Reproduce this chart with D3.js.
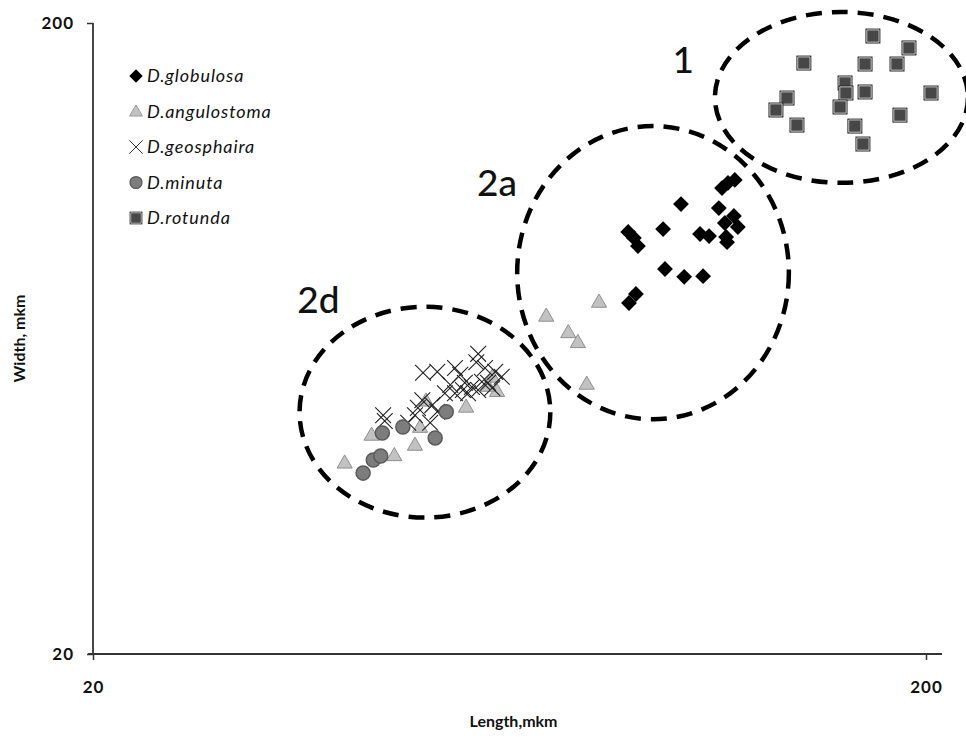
<!DOCTYPE html>
<html><head><meta charset="utf-8">
<script src="https://cdn.jsdelivr.net/npm/d3@7"></script>
<style>
html,body{margin:0;padding:0;background:#fff;}
svg{display:block;}
text{font-family:Lato,"Open Sans",sans-serif;}
</style></head>
<body>
<svg id="chart" width="966" height="740"></svg>
<script>
// ---- data (length, width in mkm) ----
const seriesNames = ["D.globulosa","D.angulostoma","D.geosphaira","D.minuta","D.rotunda"];
const globulosa = [[113.8,109.5],[115.7,111.6],[117.9,112.8],[101.6,103.3],[112.8,101.8],[117.6,98.9],[114.7,96.4],[118.9,95.0],[115.1,91.6],[115.4,89.9],[107.1,92.6],[109.8,91.9],[96.7,94.3],[87.8,93.3],[89.2,91.3],[90.2,88.6],[97.2,81.5],[102.5,79.2],[108.0,79.4],[89.7,74.4],[88.0,72.0]];
const angulostoma = [[81.0,72.3],[70.0,68.7],[74.4,64.7],[76.4,62.4],[78.3,53.6],[56.1,49.3],[50.2,50.4],[49.4,45.8],[48.7,42.9],[46.0,41.3],[43.2,44.5],[40.1,40.2],[60.3,55.0],[61.1,52.2],[59.6,53.2]];
const geosphaira = [[58.0,59.8],[57.7,58.0],[49.8,55.8],[51.8,56.0],[54.4,56.8],[55.2,55.4],[59.1,56.8],[60.8,56.0],[61.9,55.0],[55.9,53.8],[57.0,53.0],[58.6,54.0],[59.6,53.8],[60.3,52.8],[53.7,53.4],[54.4,51.8],[52.9,51.8],[49.7,50.5],[51.1,49.6],[51.8,48.4],[49.1,49.1],[48.7,47.8],[44.6,47.8],[44.8,46.8],[47.8,46.5],[50.8,46.5],[56.4,51.8],[58.0,52.4],[55.6,52.4]];
const minuta = [[42.2,38.7],[43.4,40.6],[44.3,41.2],[44.5,44.8],[47.1,45.8],[51.5,44.0],[53.1,48.4]];
const rotunda = [[172.7,190.7],[190.8,182.6],[142.7,172.8],[169.0,172.2],[184.6,172.2],[159.9,160.7],[160.3,154.9],[169.0,155.5],[202.8,154.9],[136.2,152.1],[132.1,145.6],[157.7,147.2],[186.1,142.9],[140.0,137.8],[164.3,137.3],[168.0,128.6]];
const tickValues = [20, 200];
const xTitle = "Length,mkm";
const yTitle = "Width, mkm";
// group ellipses: [label, xMin, xMax, yMin, yMax, labelX, labelY]
const groups = [
  ["1",  111.6, 224.6, 111.6, 208.2, 102.2, 166.6],
  ["2a", 64.6, 136.9, 47.1, 137.3, 61.1, 106.4],
  ["2d", 35.4, 70.8, 32.9, 71.0, 37.3, 69.4]
];

const svg = d3.select("#chart");
const x = d3.scaleLog().domain([20,200]).range([93,926]);
const y = d3.scaleLog().domain([20,200]).range([654,23]);
const axisColor = "#333";

// axes
const xAxisG = svg.append("g").attr("transform",`translate(0,${y(20)})`)
  .call(d3.axisBottom(x).tickValues(tickValues).tickFormat(d3.format("d")).tickSize(6).tickPadding(21));
xAxisG.select(".domain").remove();
xAxisG.append("line").attr("x1",x(20)-5).attr("x2",x.range()[1]+16).attr("y1",0).attr("y2",0)
  .attr("stroke",axisColor).attr("stroke-width",1.8);
const yAxisG = svg.append("g").attr("transform",`translate(${x(20)},0)`)
  .call(d3.axisLeft(y).tickValues(tickValues).tickFormat(d3.format("d")).tickSize(6).tickPadding(13));
yAxisG.select(".domain").remove();
yAxisG.append("line").attr("x1",0).attr("x2",0).attr("y1",y(200)).attr("y2",y(20))
  .attr("stroke",axisColor).attr("stroke-width",1.8);
[xAxisG,yAxisG].forEach(g=>{
  g.selectAll(".tick line").attr("stroke",axisColor).attr("stroke-width",1.5);
  g.selectAll(".tick text").attr("fill","#111").style("font-family","Lato, sans-serif")
   .style("font-size","17px").style("font-weight","bold").style("letter-spacing","1px");
});

svg.append("text").attr("x",(x(20)+x(200))/2+4).attr("y",727).attr("text-anchor","middle")
  .style("font-size","16px").style("font-weight","bold").attr("fill","#111").text(xTitle);
svg.append("text").attr("transform",`translate(25,${(y(20)+y(200))/2})rotate(-90)`).attr("text-anchor","middle")
  .style("font-size","16px").style("font-weight","bold").attr("fill","#111").text(yTitle);

// marker drawers
function drawMarker(g, i){
  if(i===0){
    g.append("path").attr("d",d3.symbol(d3.symbolSquare,125)()).attr("transform","rotate(45)").attr("fill","#000");
  } else if(i===1){
    g.append("path").attr("d",d3.symbol(d3.symbolTriangle,100)()).attr("transform","translate(0,1)")
      .attr("fill","#c2c2c2").attr("stroke","#8f8f8f").attr("stroke-width",1);
  } else if(i===2){
    g.append("path").attr("d",d3.symbol(d3.symbolX,165)()).attr("fill","none").attr("stroke","#222").attr("stroke-width",1.1);
  } else if(i===3){
    g.append("path").attr("d",d3.symbol(d3.symbolCircle,155)()).attr("fill","#7d7d7d").attr("stroke","#5a5a5a").attr("stroke-width",1.5);
  } else {
    g.append("path").attr("d",d3.symbol(d3.symbolSquare,225)()).attr("fill","#2c2c2c");
    g.append("path").attr("d",d3.symbol(d3.symbolSquare,150)()).attr("fill","#474747").attr("stroke","#c4c4c4").attr("stroke-width",1);
  }
}

const allSeries = [globulosa, angulostoma, geosphaira, minuta, rotunda];
allSeries.forEach((data,i)=>{
  svg.append("g").selectAll("g").data(data).join("g")
    .attr("transform",d=>`translate(${x(d[0])},${y(d[1])})`)
    .each(function(){ drawMarker(d3.select(this), i); });
});

// group ellipses
groups.forEach(gr=>{
  const cx=(x(gr[1])+x(gr[2]))/2, rx=(x(gr[2])-x(gr[1]))/2;
  const cy=(y(gr[3])+y(gr[4]))/2, ry=(y(gr[3])-y(gr[4]))/2;
  svg.append("ellipse").attr("cx",cx).attr("cy",cy).attr("rx",rx).attr("ry",ry)
    .attr("fill","none").attr("stroke","#000").attr("stroke-width",4.5).attr("stroke-dasharray","16 10");
  svg.append("text").attr("x",x(gr[5])).attr("y",y(gr[6])).attr("text-anchor","middle")
    .style("font-size","37px").style("font-weight","500").attr("fill","#111").text(gr[0]);
});

// legend
const leg = svg.append("g");
seriesNames.forEach((n,i)=>{
  const row = leg.append("g").attr("transform",`translate(136,${76+i*35.5})`);
  const m = row.append("g").attr("transform","scale(0.85)");
  drawMarker(m,i);
  row.append("text").attr("x",11).attr("y",6).style("font-size","18px").style("font-style","italic")
    .style("letter-spacing","0.9px").attr("fill","#111").text(n);
});
</script>
</body></html>
